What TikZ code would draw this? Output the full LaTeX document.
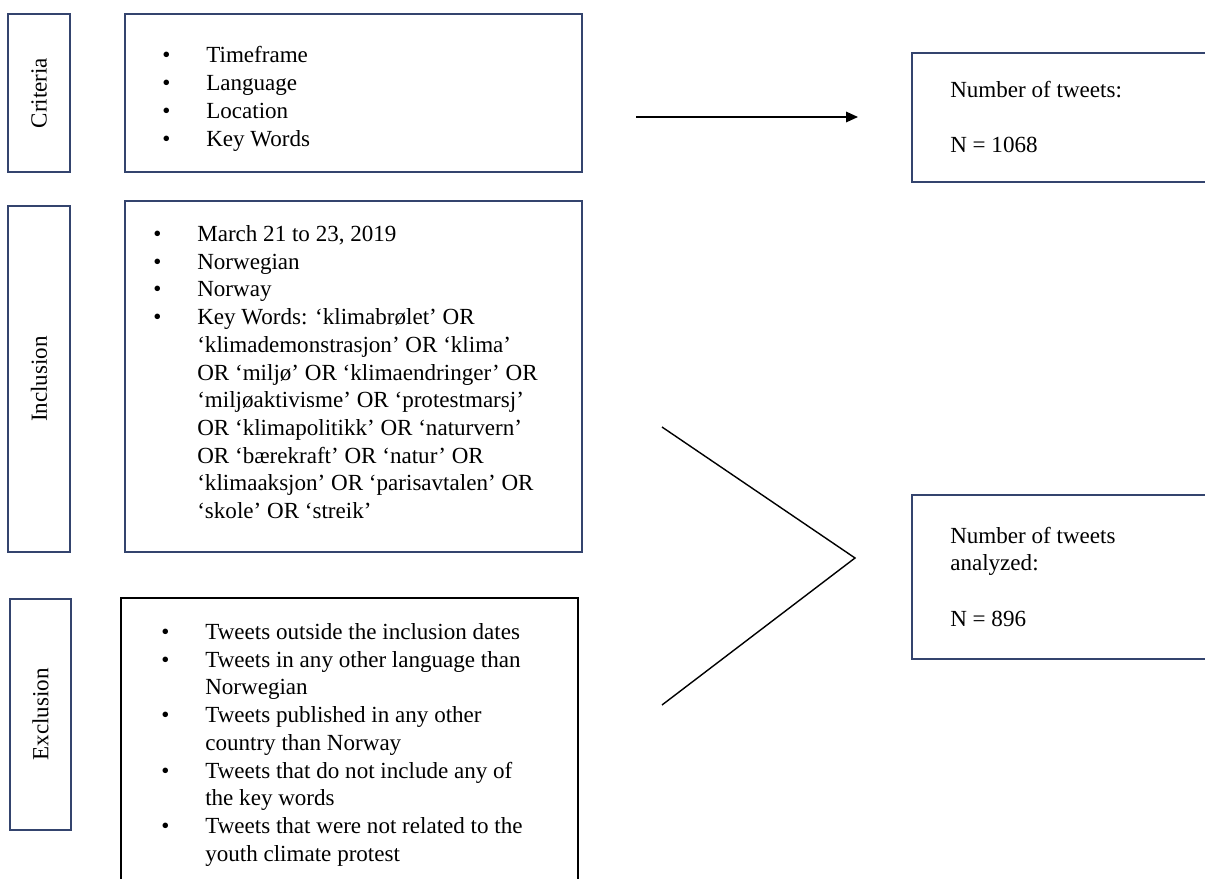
\documentclass[tikz,border=0pt]{standalone}
\usepackage{fontspec}
\setmainfont{Liberation Serif}
\usetikzlibrary{arrows.meta}
\definecolor{framenavy}{RGB}{52,68,110}
\newcommand{\bul}{\makebox[1.1cm][l]{\textbullet}}

\begin{document}
\begin{tikzpicture}[x=0.025cm, y=-0.025cm, >={Triangle[length=8.5pt,width=7.5pt]},
    every node/.style={font=\fontsize{16.4}{19.7}\selectfont},
    sidebox/.style={draw=framenavy, line width=1.4pt, rotate=90, inner sep=0pt},
    mainbox/.style={draw=framenavy, line width=1.4pt, inner sep=0pt},
    listtext/.style={anchor=base west, inner sep=0pt}]
    \useasboundingbox (0,0) rectangle (1205,879);
    \clip (0,0) rectangle (1205,879);

    % Seitenkaesten
    \node[sidebox, minimum width=3.95cm, minimum height=1.55cm] (crit) at (39,93) {Criteria};
    \node[sidebox, minimum width=8.65cm, minimum height=1.55cm] (incl) at (39,379) {Inclusion};
    \node[sidebox, minimum width=5.775cm, minimum height=1.525cm] (excl) at (40.5,714.5) {Exclusion};

    % Hauptkaesten
    \node[mainbox, minimum width=11.425cm, minimum height=3.95cm] (critbox) at (353.5,93) {};
    \node[mainbox, minimum width=11.425cm, minimum height=8.775cm] (inclbox) at (353.5,376.5) {};
    \node[mainbox, draw=black, line width=1.1pt, minimum width=11.425cm, minimum height=7.55cm] (exclbox) at (349.5,749) {};

    % Listen
    \node[listtext] (critlist) at (162,63) {\begin{tabular}[t]{@{}l@{}l@{}}
        \bul & Timeframe\\
        \bul & Language\\
        \bul & Location\\
        \bul & Key Words
    \end{tabular}};
    \node[listtext] (incllist) at (153,241.5) {\begin{tabular}[t]{@{}l@{}l@{}}
        \bul & March 21 to 23, 2019\\
        \bul & Norwegian\\
        \bul & Norway\\
        \bul & Key Words: ‘klimabrølet’ OR\\
             & ‘klimademonstrasjon’ OR ‘klima’\\
             & OR ‘miljø’ OR ‘klimaendringer’ OR\\
             & ‘miljøaktivisme’ OR ‘protestmarsj’\\
             & OR ‘klimapolitikk’ OR ‘naturvern’\\
             & OR ‘bærekraft’ OR ‘natur’ OR\\
             & ‘klimaaksjon’ OR ‘parisavtalen’ OR\\
             & ‘skole’ OR ‘streik’
    \end{tabular}};
    \node[listtext] (excllist) at (161,639.5) {\begin{tabular}[t]{@{}l@{}l@{}}
        \bul & Tweets outside the inclusion dates\\
        \bul & Tweets in any other language than\\
             & Norwegian\\
        \bul & Tweets published in any other\\
             & country than Norway\\
        \bul & Tweets that do not include any of\\
             & the key words\\
        \bul & Tweets that were not related to the\\
             & youth climate protest
    \end{tabular}};

    % Ergebnisse
    \node[mainbox, minimum width=8.2cm, minimum height=3.225cm] (res1) at (1076,117.5) {};
    \node[mainbox, minimum width=8.2cm, minimum height=4.1cm] (res2) at (1076,577) {};
    \node[listtext] (res1text) at (950,97.5) {\begin{tabular}[t]{@{}l@{}}
        Number of tweets:\\ \\ N = 1068
    \end{tabular}};
    \node[listtext] (res2text) at (950,543) {\begin{tabular}[t]{@{}l@{}}
        Number of tweets\\ analyzed:\\ \\ N = 896
    \end{tabular}};

    % Pfeil und Winkel
    \coordinate (arrs) at (636,117);
    \coordinate (arre) at (858,117);
    \draw[->, line width=1.1pt] (arrs) -- (arre);
    \coordinate (chevtop) at (662,427);
    \coordinate (chevtip) at (855,558);
    \coordinate (chevbot) at (662,705);
    \draw[line width=1pt] (chevtop) -- (chevtip) -- (chevbot);
\end{tikzpicture}
\end{document}
